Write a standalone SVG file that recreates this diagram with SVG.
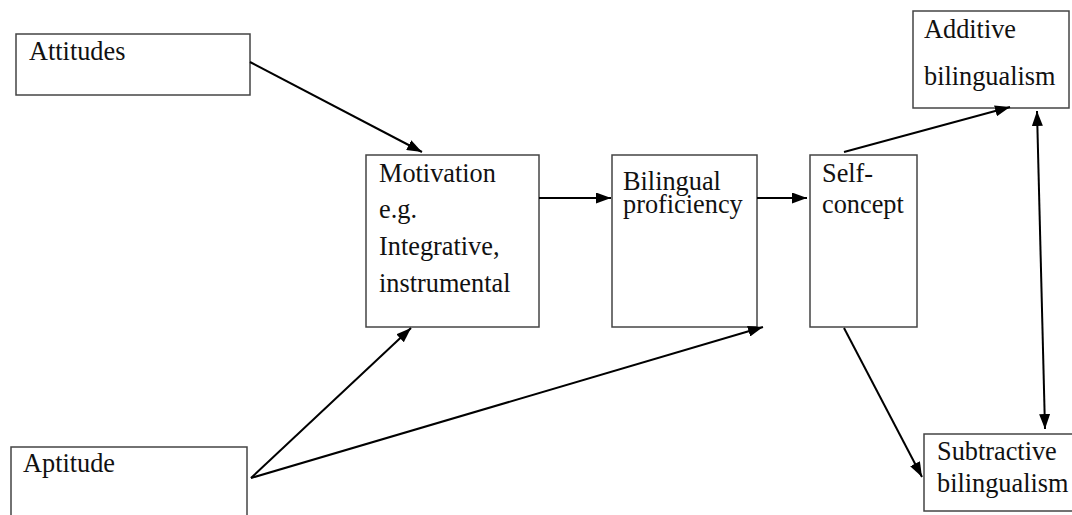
<svg xmlns="http://www.w3.org/2000/svg" width="1072" height="515" viewBox="0 0 1072 515">
<style>
.box{fill:#fff;stroke:#444;stroke-width:1.5}
.t{font-size:26.3px;fill:#111}
.c{stroke:#000;stroke-width:2;fill:none;marker-end:url(#ah)}
</style>
<defs>
<marker id="ah" viewBox="0 0 15 11" refX="15" refY="5.5" markerWidth="15" markerHeight="11" markerUnits="userSpaceOnUse" orient="auto-start-reverse">
<path d="M0,0 L15,5.5 L0,11 z" fill="#000"/>
</marker>
</defs>
<rect width="1072" height="515" fill="#fff"/>
<g font-family="Liberation Serif, Times New Roman, DejaVu Serif, serif">
<g id="attitudes">
<rect class="box" x="16" y="34" width="234" height="61"/>
<text class="t" x="29" y="60">Attitudes</text>
</g>
<g id="aptitude">
<rect class="box" x="11" y="447" width="236" height="80"/>
<text class="t" x="23" y="472">Aptitude</text>
</g>
<g id="motivation">
<rect class="box" x="366" y="155" width="173" height="172"/>
<text class="t" x="379" y="182">Motivation</text>
<text class="t" x="379" y="218">e.g.</text>
<text class="t" x="379" y="255">Integrative,</text>
<text class="t" x="379" y="292">instrumental</text>
</g>
<g id="bilingual">
<rect class="box" x="612" y="155" width="145" height="172"/>
<text class="t" x="623" y="190">Bilingual</text>
<text class="t" x="623" y="213">proficiency</text>
</g>
<g id="selfconcept">
<rect class="box" x="810" y="155" width="107" height="172"/>
<text class="t" x="822" y="182">Self-</text>
<text class="t" x="822" y="213">concept</text>
</g>
<g id="additive">
<rect class="box" x="913" y="11" width="156" height="97"/>
<text class="t" x="924" y="38">Additive</text>
<text class="t" x="924" y="85">bilingualism</text>
</g>
<g id="subtractive">
<rect class="box" x="924" y="434" width="160" height="77"/>
<text class="t" x="937" y="460">Subtractive</text>
<text class="t" x="937" y="492">bilingualism</text>
</g>
</g>
<g id="connectors">
<line class="c" x1="250" y1="62" x2="422" y2="152"/>
<line class="c" x1="539" y1="198" x2="611" y2="198"/>
<line class="c" x1="757" y1="198" x2="807" y2="198"/>
<line class="c" x1="251" y1="478" x2="411" y2="328"/>
<line class="c" x1="251" y1="478" x2="763" y2="327"/>
<line class="c" x1="844" y1="152" x2="1010" y2="107"/>
<line class="c" x1="844" y1="328" x2="922" y2="477"/>
<line class="c" x1="1037" y1="111" x2="1045" y2="429" marker-start="url(#ah)"/>
</g>
</svg>
